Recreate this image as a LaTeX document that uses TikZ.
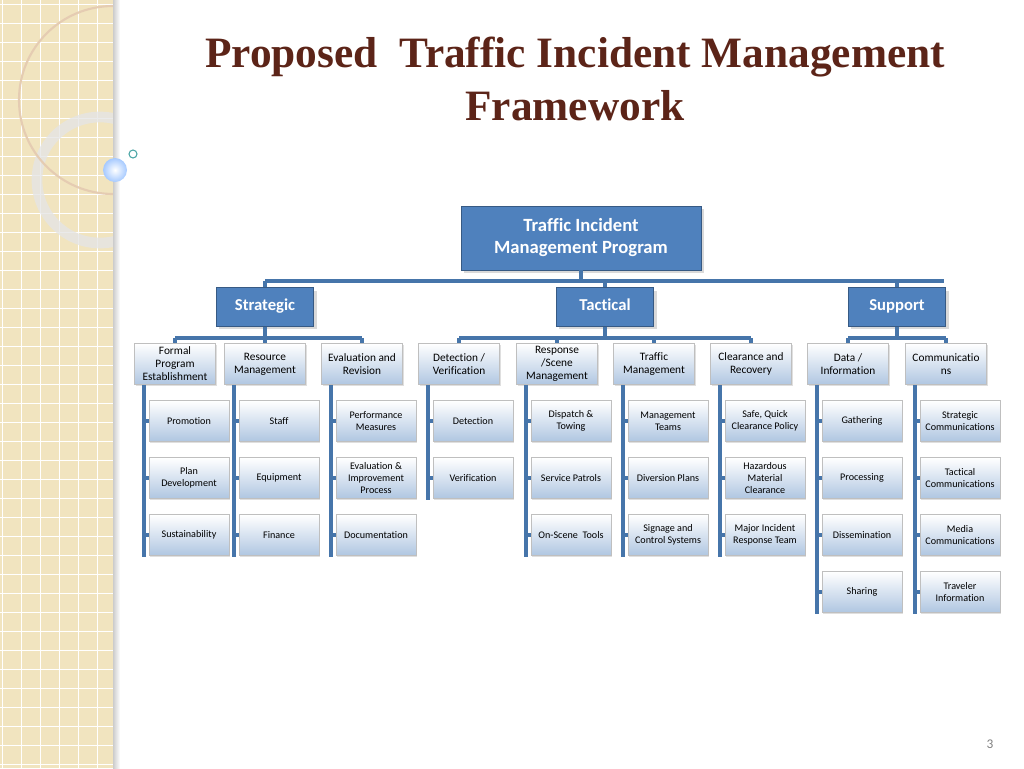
\documentclass[tikz,border=0pt]{standalone}
\usepackage{fontspec}
\setmainfont{Liberation Serif}
\newfontfamily\carl{Carlito}[Ligatures=NoCommon]
\usetikzlibrary{shadows}
\definecolor{ln}{HTML}{4675AA}
\definecolor{hd}{HTML}{4F81BD}
\definecolor{tt}{HTML}{5C2418}
\definecolor{pn}{HTML}{F1E4BF}
\tikzset{
 lvA/.style={fill=hd,draw=hd!70!black,text=white,font=\carl\bfseries\fontsize{14}{16.5}\selectfont,align=center,minimum width=180pt,minimum height=48pt,inner sep=1pt,drop shadow={opacity=.3}},
 lvB/.style={fill=hd,draw=hd!70!black,text=white,font=\carl\bfseries\fontsize{12.5}{14}\selectfont,minimum width=73pt,minimum height=29pt,text height=1.6ex,text depth=.45ex,drop shadow={opacity=.3}},
 lvC/.style={top color=white,bottom color=hd!45,draw=black!25,font=\carl\fontsize{8.5}{9.8}\selectfont,align=center,minimum width=61pt,minimum height=31pt,inner sep=0pt,drop shadow={opacity=.25,shadow xshift=1pt,shadow yshift=-1pt}},
 lvD/.style={top color=white,bottom color=hd!45,draw=black!25,font=\carl\fontsize{7.6}{8.9}\selectfont,align=center,minimum width=60pt,minimum height=30.5pt,inner sep=0pt,drop shadow={opacity=.25,shadow xshift=1pt,shadow yshift=-1pt}},
 cn/.style={draw=ln,line width=2.8pt}
}
\begin{document}
\begin{tikzpicture}[x=0.75pt,y=-0.75pt]
\useasboundingbox (0,0) rectangle (1024,768);
% left panel
\fill[pn] (0,0) rectangle (113,768);
\foreach \i in {0,...,40}{\draw[white,line width=0.6pt] (0,\i*19+4) -- (113,\i*19+4);}
\foreach \i in {0,...,5}{\draw[white,line width=0.6pt] (\i*19+2,0) -- (\i*19+2,768);}
\begin{scope}
\clip (0,0) rectangle (113,768);
\draw[line width=8pt,white!80!gray,opacity=.8] (100,180) circle (63);
\draw[line width=1.6pt,white!60!brown] (113,100) circle (94);
\end{scope}
\fill[left color=gray!40,right color=white] (113,0) rectangle (120,768);
\shade[inner color=white,outer color=cyan!40!blue!35] (115,170) circle (12);
\draw[teal!70,line width=0.8pt] (133,154) circle (4);
% title
\node[text=tt,font=\bfseries\fontsize{32.5}{40}\selectfont,align=center] (title) at (575,79) {Proposed\ \ Traffic Incident Management\\Framework};
\node[text=gray,font=\carl\fontsize{10}{12}\selectfont] (pg) at (990,744) {3};
% top
\node[lvA] (t) at (581,238) {Traffic Incident\\Management Program};
\node[lvB] (s1) at (265,307) {Strategic};
\node[lvB] (s2) at (605,307) {Tactical};
\node[lvB] (s3) at (897,307) {Support};
\draw[cn] (t.south) -- (581,281);
\draw[cn] (265,281) -- (944,281);
\foreach \s in {s1,s2,s3}{\draw[cn] (\s.north) -- (\s.north|-0,281);}
% level 3
\foreach \n/\x/\t in {1/175/{Formal\\Program\\Establishment},2/265/{Resource\\Management},3/362/{Evaluation and\\Revision},4/459/{Detection /\\Verification},5/557/{Response\\/Scene\\Management},6/654/{Traffic\\Management},7/751/{Clearance and\\Recovery},8/848/{Data /\\Information},9/946/{Communicatio\\ns}}{
 \node[lvC] (c\n) at (\x,364) {\t};
}
\foreach \s/\a/\b in {s1/1/3,s2/4/7,s3/8/9}{
 \draw[cn] (\s.south) -- (\s.south|-0,338);
 \draw[cn] (c\a.north|-0,338) -- (c\b.north|-0,338);
 \foreach \k in {\a,...,\b}{\draw[cn] (c\k.north|-0,338) -- (c\k.north);}
}
% level 4
\foreach \n/\x/\r/\lst in {
 1/175/3/{Promotion,Plan\\Development,Sustainability},
 2/265/3/{Staff,Equipment,Finance},
 3/362/3/{Performance\\Measures,Evaluation \&\\Improvement\\Process,Documentation},
 4/459/2/{Detection,Verification},
 5/557/3/{Dispatch \&\\Towing,Service Patrols,On-Scene\ \ Tools},
 6/654/3/{Management\\Teams,Diversion Plans,Signage and\\Control Systems},
 7/751/3/{{Safe, Quick\\Clearance Policy},Hazardous\\Material\\Clearance,Major Incident\\Response Team},
 8/848/4/{Gathering,Processing,Dissemination,Sharing},
 9/946/4/{Strategic\\Communications,Tactical\\Communications,Media\\Communications,Traveler\\Information}}{
 \foreach \tx [count=\j] in \lst {
  \node[lvD] (g\n-\j) at (\x+14,364+57*\j) {\tx};
  \draw[cn] (\x-31,364+57*\j) -- (g\n-\j.west);
 }
 \draw[cn] (c\n.south-|\x-31,0) -- (\x-31,364+57*\r+22);
}
\end{tikzpicture}
\end{document}
